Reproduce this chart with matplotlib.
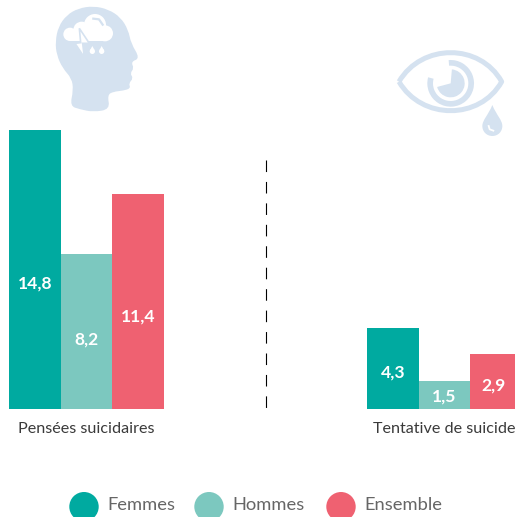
import matplotlib
matplotlib.use("Agg")
import matplotlib.pyplot as plt
import numpy as np
from matplotlib.patches import Circle, PathPatch, Polygon, Wedge
from matplotlib.path import Path

# data
categories = ["Pensées suicidaires", "Tentative de suicide"]
series_names = ["Femmes", "Hommes", "Ensemble"]
femmes = [14.8, 4.3]
hommes = [8.2, 1.5]
ensemble = [11.4, 2.9]
value_labels = [["14,8", "4,3"], ["8,2", "1,5"], ["11,4", "2,9"]]

COLORS = ["#00AAA0", "#7CC8BF", "#EF6171"]
ICON = "#D5E2F0"
FONT = "Lato"
W, H = 515, 517

fig = plt.figure(figsize=(W / 100, H / 100), dpi=100)
# one axes in pixels for layout, icons and legend
px = fig.add_axes([0, 0, 1, 1])
px.set_xlim(0, W)
px.set_ylim(H, 0)
px.axis("off")

# bars share x pixels but have their own value scale (18.85 px per unit, base at y=409)
ax = fig.add_axes([0, 0, 1, 1], facecolor="none")
ax.set_xlim(0, W)
ax.set_ylim(-(H - 409) / 18.85, 409 / 18.85)
ax.axis("off")

group_left = [9, 367]
bar_w = 51.6
label_pos = [0.45, 0.45, 0.43]
for i, vals in enumerate([femmes, hommes, ensemble]):
    xs = [g + bar_w * (i + 0.5) for g in group_left]
    ax.bar(xs, vals, width=bar_w, color=COLORS[i], linewidth=0)
    for x, v, lab in zip(xs, vals, value_labels[i]):
        # last bar is cut by the edge, keep its label inside
        tx = min(x, 493)
        ax.text(tx, v * label_pos[i], lab, color="white", fontsize=12.6, fontweight="bold",
                family=FONT, ha="center", va="center")

for x, c in zip([86.5, 444.5], categories):
    px.text(x, 429, c, fontsize=11.6, family=FONT, color="#3a3a3a", ha="center", va="center")

# divider
px.plot([265.5, 265.5], [160.3, 409], color="black", lw=0.8, dashes=(10.4, 8.9))

# legend, circles run off the bottom edge
for cx, tx, name, col in zip([84, 209, 341], [107.5, 232.5, 364.5], series_names, COLORS):
    px.add_patch(Circle((cx, 506.7), 14.7, color=col, lw=0))
    px.text(tx, 505, name, fontsize=13.2, family=FONT, color="#666666", ha="left", va="center")


def zoomed(pts, ox, oy):
    return [(ox + a / 3, oy + b / 3) for a, b in pts]


def smooth_closed(pts):
    # quadratic curves through the midpoints, rounds off the polygon
    pts = np.array(pts, dtype=float)
    mids = (pts + np.roll(pts, -1, axis=0)) / 2
    verts = [mids[-1]]
    codes = [Path.MOVETO]
    for p, m in zip(pts, mids):
        verts += [p, m]
        codes += [Path.CURVE3, Path.CURVE3]
    return Path(verts, codes)


# head icon
head = [(120, 318), (130, 270), (125, 235), (98, 205), (80, 165), (76, 125), (85, 80),
        (110, 45), (145, 25), (190, 18), (235, 28), (272, 52), (295, 90), (303, 130),
        (330, 175), (303, 185), (312, 205), (300, 220), (310, 235), (296, 250),
        (302, 265), (280, 272), (250, 275), (232, 285), (240, 328), (190, 336), (150, 328)]
px.add_patch(PathPatch(smooth_closed(zoomed(head, 30, 0)), fc=ICON, ec="none"))
for (a, b, r) in [(120, 103, 20), (155, 90, 25), (195, 75, 33), (225, 100, 24)]:
    px.add_patch(Circle((30 + a / 3, b / 3), r / 3, color="white", lw=0))
px.add_patch(Polygon(zoomed([(120, 123), (228, 123), (228, 100), (120, 100)], 30, 0), color="white", lw=0))
bolt = [(148, 85), (178, 130), (158, 130), (163, 172), (135, 130), (152, 128)]
px.add_patch(Polygon(zoomed(bolt, 30, 0), fc="white", ec=ICON, lw=1.2))
for a in [187, 215]:
    px.add_patch(Circle((30 + a / 3, 154 / 3), 8 / 3, color="white", lw=0))
    px.add_patch(Polygon(zoomed([(a - 7, 151), (a + 7, 151), (a, 138)], 30, 0), color="white", lw=0))
px.plot(*zip(*zoomed([(190, 56), (207, 58), (218, 74)], 30, 0)), color=ICON, lw=1.6)

# eye icon
ox, oy = 385, 40
lens = Path(zoomed([(42, 125), (110, 9), (285, 9), (350, 125), (285, 241), (110, 241), (42, 125)], ox, oy),
            [Path.MOVETO] + [Path.CURVE4] * 6)
px.add_patch(PathPatch(lens, fc="none", ec=ICON, lw=3.6, joinstyle="round"))
centre = (ox + 197 / 3, oy + 130 / 3)
# y is flipped here, so angles run clockwise on screen
px.add_patch(Wedge(centre, 70 / 3, -95, 195, width=17 / 3, color=ICON, lw=0))
px.add_patch(Wedge(centre, 42 / 3, -85, 165, color=ICON, lw=0))
px.plot(*zip(*zoomed([(178, 58), (184, 78)], ox, oy)), color="white", lw=1.2)
drop = Path(zoomed([(322, 195), (310, 225), (292, 240), (292, 258), (292, 275), (305, 288), (322, 288),
                    (339, 288), (352, 275), (352, 258), (352, 240), (334, 225), (322, 195)], ox, oy),
            [Path.MOVETO] + [Path.CURVE4] * 12)
px.add_patch(PathPatch(drop, fc=ICON, ec="none"))
px.plot(*zip(*zoomed([(311, 258), (314, 268), (325, 272)], ox, oy)), color="white", lw=1.3)

fig.savefig("out.png", dpi=100)
